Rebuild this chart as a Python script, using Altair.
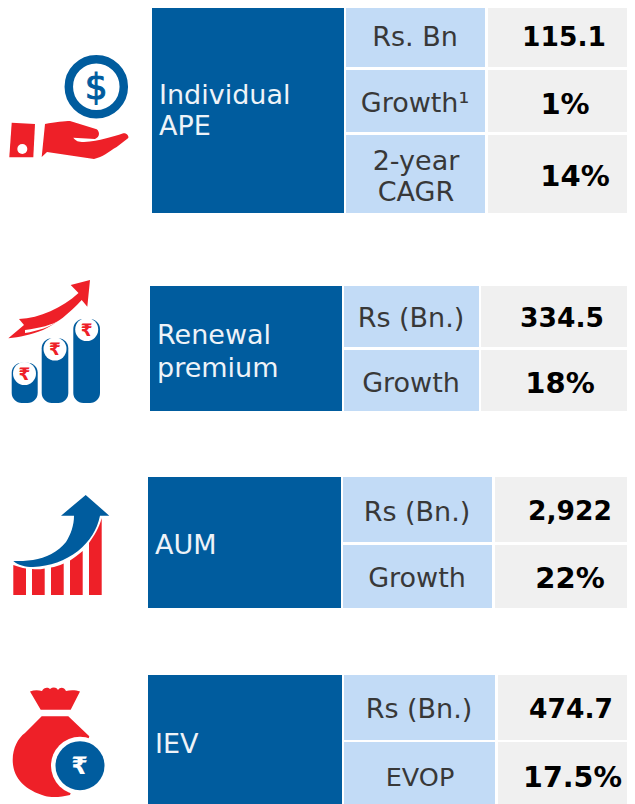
import re
import altair as alt
import pandas as pd

# ---- table content -------------------------------------------------------
heading_text = ["Individual", "APE", "Renewal", "premium", "AUM", "IEV"]
heading_x = [159, 159, 157, 157, 155, 155]
heading_y = [96, 127, 336, 369, 546, 745]

label_text = ["Rs. Bn", "Growth¹", "2-year", "CAGR", "Rs (Bn.)", "Growth",
              "Rs (Bn.)", "Growth", "Rs (Bn.)", "EVOP"]
label_x = [415, 415, 416, 416, 411, 411, 417, 417, 419, 420]
label_y = [38, 104, 162, 193, 319, 384, 513, 579, 710, 778]
label_size = [27, 27, 27, 27, 27, 27, 27, 27, 27, 25.5]

value_text = ["115.1", "1%", "14%", "334.5", "18%", "2,922", "22%", "474.7", "17.5%"]
value_x = [564, 565, 575, 562, 560, 570, 570, 571, 572.5]
value_y = [38, 105, 177, 319, 384, 512, 579, 710, 778]
value_size = [26.5, 29, 29, 26.5, 29, 26.5, 29, 26.5, 28.5]

dark_x = [152, 150, 148, 148]
dark_x2 = [344, 342, 341, 342]
dark_y = [4, 286, 477, 675]
dark_y2 = [213, 411, 608, 804]

row_top = [4, 70, 135, 286, 350, 477, 545, 675, 742]
row_bot = [67, 132, 213, 347, 411, 542, 608, 740, 804]
light_x = [346, 346, 346, 344, 344, 343, 343, 344, 344]
light_x2 = [485, 485, 485, 479, 479, 492, 492, 495, 495]
grey_x = [488, 488, 488, 481, 481, 495, 495, 498, 498]
grey_x2 = [627] * 9

# ---- pictograms ----------------------------------------------------------
red_shapes = [
    # hand
    "M11.7,122.7 L35,124 L33.3,157.3 L9.3,157.3 Z",
    "M45,124 C55,122 65,121 70,121 L96.7,129.3 C100,132 100,137 95,139 L73.3,137.7 "
    "C76,141 78,142 84,142 C100,141 112,137 123.3,133.3 C127,133 129,136 128.3,138 "
    "L116.7,147 C108,152 103,157 94,159 L47,152 L41.7,157 Z",
    # rising arrow
    "M8.3,338.3 L24,325 L19,319 C40,318 62,308 78.5,293 L70.7,285 L90,280 L87.3,306.7 "
    "L81.7,300 C70,313 56,324 43,330 C30,335 20,337 8.3,338.3 Z",
    # bars under the arrow
    "M13.3,565 C17,566 22,568 26,568.5 L26,595 L13.3,595 Z",
    "M32,569 C36,569.5 40,569.5 44.7,568.5 L44.7,595 L32,595 Z",
    "M51,567.5 C55,567 59,565.5 63.7,563.5 L63.7,595 L51,595 Z",
    "M70,560.5 C74,558 78,555 82.7,551 L82.7,595 L70,595 Z",
    "M89,543 C94,536 99,528 101.7,518 L101.7,595 L89,595 Z",
    # money bag
    "M30,691.5 C34,690 38,690 42,691 C44,687 48,687 50,689 C53,687 56,687 58,690 C60,687 64,687 66,691 "
    "C70,690 76,690 80,691.5 L70.7,709.7 L40.7,709.7 Z",
    "M41.7,716.3 L68.3,716.3 L89.3,736.3 L80,765.7 L70,795 C62,797 52,798 45,796 "
    "C25,790 12.7,778 12.7,760 C12.7,748 18,738 25,733 Z",
]
blue_shapes = [
    # arrow over the bars
    "M85.7,495 L109.3,515.7 L100,515.7 C97,530 90,541 78,551 C65,561 50,566 33,567 "
    "C25,567 18,565 13.3,561 C20,561 26,561 33,560 C46,558 58,552 66,542 C71,534 74,525 74,515.7 "
    "L61,515.7 Z",
]
white_shapes = [
    "M25,330 C40,328 52,325 60,320 C50,327 38,331 25,333 Z",
]
coin_left = [11.7, 41.7, 73.3]
coin_right = [37.7, 68.3, 100]
coin_top = [362.7, 338.3, 319]
coin_bottom = [403, 403, 403]
coin_face_x = [24.5, 55, 86.7]
coin_face_y = [373.5, 349, 329.5]
rupee_x = [24.5, 55, 86.7, 79.5]
rupee_y = [375, 350, 331, 767]
rupee_size = [17, 17, 17, 24]

RED, BLUE, LIGHT, GREY = "#ee2028", "#005c9e", "#c2dbf6", "#f0f0f0"
FONT = "DejaVu Sans"


def anchored(path):
    """Express an outline relative to its own centre, returning centre and path."""
    nums = [float(n) for n in re.findall(r"-?\d+\.?\d*", path)]
    cx = (min(nums[0::2]) + max(nums[0::2])) / 2
    cy = (min(nums[1::2]) + max(nums[1::2])) / 2
    def fix(m):
        return f"{float(m.group(1)) - cx:.2f},{float(m.group(2)) - cy:.2f}"
    return cx, cy, re.sub(r"(-?\d+\.?\d*),(-?\d+\.?\d*)", fix, path)


X = alt.X("x:Q", scale=alt.Scale(domain=[8, 627]), axis=None)
Y = alt.Y("y:Q", scale=alt.Scale(domain=[804, 8]), axis=None)
X2 = alt.X2("x2:Q")
Y2 = alt.Y2("y2:Q")


def cells(x, x2, y, y2, colour, **kw):
    df = pd.DataFrame({"x": x, "x2": x2, "y": [max(v, 8) for v in y], "y2": y2})
    return alt.Chart(df).mark_rect(color=colour, strokeWidth=0, **kw).encode(x=X, x2=X2, y=Y, y2=Y2)


def texts(t, x, y, sizes, **kw):
    df = pd.DataFrame({"t": t, "x": x, "y": y, "s": sizes})
    return alt.Chart(df).mark_text(font=FONT, baseline="middle", **kw).encode(
        x=X, y=Y, text="t:N", size=alt.Size("s:Q", scale=None, legend=None))


def outlines(paths, colour):
    out = []
    for p in paths:
        cx, cy, rel = anchored(p)
        out.append(
            alt.Chart(pd.DataFrame({"x": [cx], "y": [cy]}))
            .mark_point(shape=rel, size=4, filled=True, fill=colour, stroke=None, opacity=1, clip=False)
            .encode(x=X, y=Y)
        )
    return out


def dots(x, y, diameter, **kw):
    return alt.Chart(pd.DataFrame({"x": x, "y": y})).mark_point(
        shape="circle", size=diameter ** 2, opacity=1, **kw).encode(x=X, y=Y)


layers = [
    cells(dark_x, dark_x2, dark_y, dark_y2, BLUE),
    cells(light_x, light_x2, row_top, row_bot, LIGHT),
    cells(grey_x, grey_x2, row_top, row_bot, GREY),
    texts(heading_text, heading_x, heading_y, [27] * 6, align="left", color="#eef3f8"),
    texts(label_text, label_x, label_y, label_size, align="center", color="#383838"),
    texts(value_text, value_x, value_y, value_size, align="center", fontWeight="bold", color="#000000"),
    # dollar coin
    dots([96.3], [86.7], 55, filled=False, stroke=BLUE, strokeWidth=8.5),
    texts(["$"], [96.3], [88], [36], align="center", color=BLUE, stroke=BLUE, strokeWidth=1),
    *outlines(red_shapes, RED),
    *outlines(blue_shapes, BLUE),
    *outlines(white_shapes, "#ffffff"),
    dots([22.3], [149], 10, filled=True, fill="#ffffff", stroke=None),
    # stacked coins
    cells(coin_left, coin_right, coin_top, coin_bottom, BLUE, cornerRadius=10),
    dots(coin_face_x, coin_face_y, 23, filled=True, fill="#ffffff", stroke=None),
    # money bag coin
    dots([80], [765.7], 58, filled=True, fill="#ffffff", stroke=None),
    dots([80], [765.7], 49, filled=True, fill=BLUE, stroke=None),
    texts(["₹"] * 4, rupee_x, rupee_y, rupee_size, align="center", fontWeight="bold",
          color=RED).transform_filter("datum.s < 20"),
    texts(["₹"] * 4, rupee_x, rupee_y, rupee_size, align="center", fontWeight="bold",
          color="#ffffff").transform_filter("datum.s >= 20"),
]

chart = (
    alt.layer(*layers)
    .properties(width=619, height=796, padding=0, background="#ffffff")
    .configure_view(stroke=None)
)

chart.save("out.html", embed_options={"renderer": "svg", "actions": False})
